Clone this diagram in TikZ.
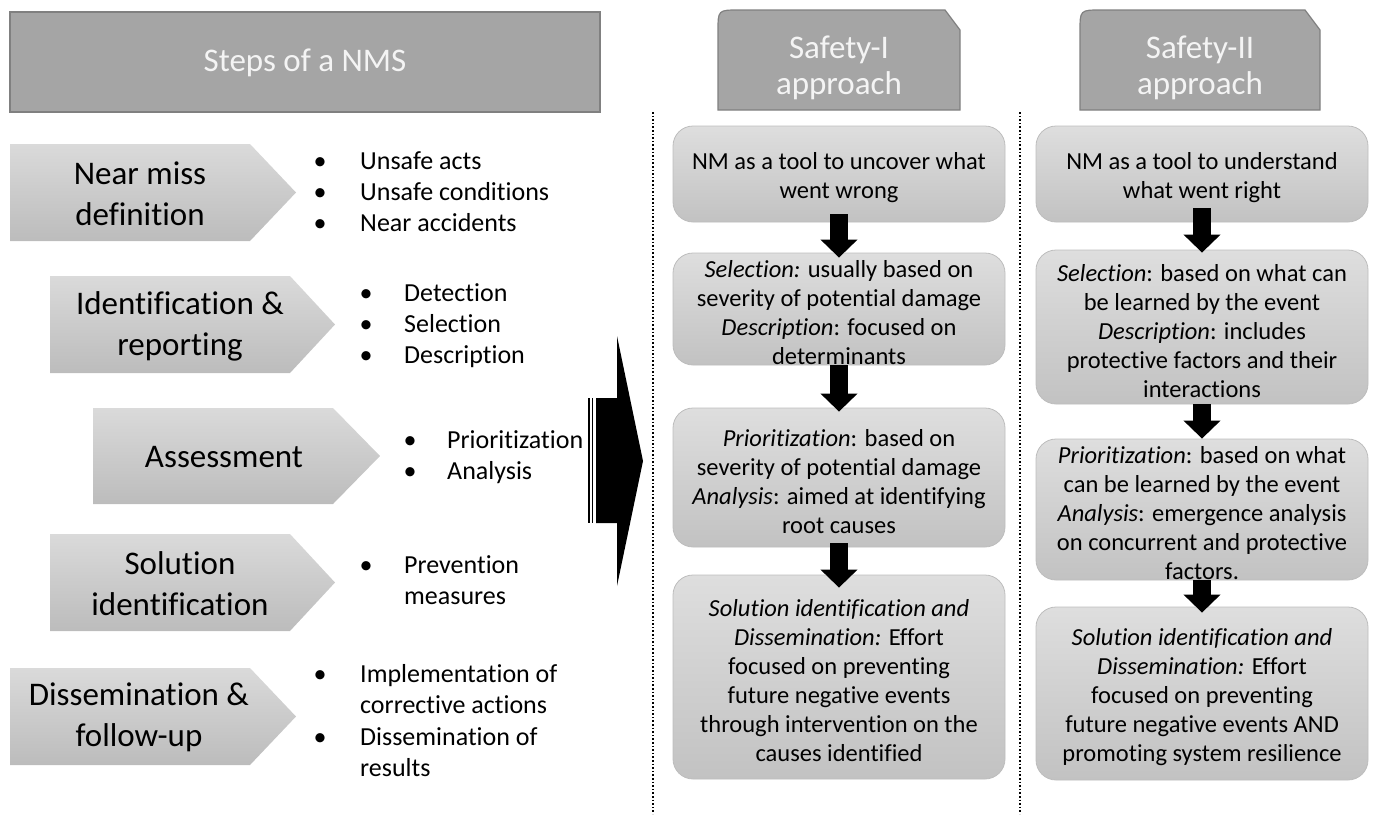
\documentclass[tikz,border=0pt]{standalone}
\usepackage{fontspec}
\setmainfont[Ligatures=NoCommon]{Carlito}
\usetikzlibrary{arrows.meta}
\definecolor{hdr}{HTML}{A5A5A5}
\definecolor{hdrline}{HTML}{808080}
\definecolor{hdrtxt}{HTML}{F4F4F4}
\definecolor{boxtop}{HTML}{DEDEDE}
\definecolor{boxbot}{HTML}{C2C2C2}
\definecolor{boxline}{HTML}{BDBDBD}
\definecolor{pentop}{HTML}{DADADA}
\definecolor{penbot}{HTML}{BCBCBC}
\newcommand\cardtop{\rule{0pt}{24.5pt}}
\begin{document}
\begin{tikzpicture}[x=1pt,y=-1pt,
 hdrbox/.style={fill=hdr, draw=hdrline, line width=1.2pt},
 hdrtext/.style={text=hdrtxt, font=\fontsize{33}{36}\selectfont, align=center, inner sep=0},
 pent/.style={top color=pentop, bottom color=penbot, draw=none},
 penttext/.style={font=\fontsize{33}{41}\selectfont, align=center, inner sep=0},
 bul/.style={font=\fontsize{26}{31}\selectfont, anchor=base, inner sep=0},
 btxt/.style={font=\fontsize{26}{31}\selectfont, anchor=base west, inner sep=0},
 card/.style={rounded corners=20pt, top color=boxtop, bottom color=boxbot, draw=boxline, line width=0.8pt, align=center, font=\fontsize{24.5}{29}\selectfont, inner sep=0, minimum width=332pt},
 downarrow/.style={line width=18pt, -{Triangle[width=36pt,length=18pt]}},
 sep/.style={dotted, line width=1.6pt}
]
\useasboundingbox (0,0) rectangle (1375,814);

% left header
\node[hdrbox, minimum width=590pt, minimum height=100pt, inner sep=0] (hdr) at (305,62) {};
\node[hdrtext] (hdrt) at (305,63) {Steps of a NMS};

% safety headers
\path[hdrbox] (718,110) -- (718,31) .. controls (718,10) .. (739,10) -- (945,10) -- (960,30) -- (960,110) -- cycle;
\node[hdrtext] (saf1) at (839,67.5) {Safety-I\\approach};
\path[hdrbox] (1080,110) -- (1080,31) .. controls (1080,10) .. (1101,10) -- (1305,10) -- (1320,30) -- (1320,110) -- cycle;
\node[hdrtext] (saf2) at (1200,67.5) {Safety-II\\approach};

% separators
\coordinate (s1top) at (653,112); \coordinate (s1bot) at (653,814);
\coordinate (s2top) at (1020,112); \coordinate (s2bot) at (1020,814);
\draw[sep] (s1top) -- (s1bot);
\draw[sep] (s2top) -- (s2bot);

% pentagons
\path[pent] (10,144) -- (250,144) -- (296,192.5) -- (250,241) -- (10,241) -- cycle;
\node[penttext] (p1) at (140,194) {Near miss\\definition};
\path[pent] (50,276) -- (290,276) -- (335,324.5) -- (290,373) -- (50,373) -- cycle;
\node[penttext] (p2) at (180,326) {Identification \&\\reporting};
\path[pent] (93,408) -- (333,408) -- (380,456) -- (333,504) -- (93,504) -- cycle;
\node[penttext] (p3) at (224,457) {Assessment};
\path[pent] (50,534) -- (290,534) -- (335,582.5) -- (290,631) -- (50,631) -- cycle;
\node[penttext] (p4) at (180,584) {Solution\\identification};
\path[pent] (10,668) -- (250,668) -- (296,716.5) -- (250,765) -- (10,765) -- cycle;
\node[penttext] (p5) at (139,717) {Dissemination \&\\follow-up};

% bullets
\node[bul] (d11) at (320,169) {•}; \node[btxt] (t11) at (360,169) {Unsafe acts};
\node[bul] (d12) at (320,200) {•}; \node[btxt] (t12) at (360,200) {Unsafe conditions};
\node[bul] (d13) at (320,231) {•}; \node[btxt] (t13) at (360,231) {Near accidents};

\node[bul] (d21) at (366,301) {•}; \node[btxt] (t21) at (404,301) {Detection};
\node[bul] (d22) at (366,332) {•}; \node[btxt] (t22) at (404,332) {Selection};
\node[bul] (d23) at (366,363) {•}; \node[btxt] (t23) at (404,363) {Description};

\node[bul] (d31) at (410,448) {•}; \node[btxt] (t31) at (447,448) {Prioritization};
\node[bul] (d32) at (410,479) {•}; \node[btxt] (t32) at (447,479) {Analysis};

\node[bul] (d41) at (366,573) {•}; \node[btxt] (t41) at (404,573) {Prevention};
\node[btxt] (t42) at (404,604) {measures};

\node[bul] (d51) at (320,682) {•}; \node[btxt] (t51) at (360,682) {Implementation of};
\node[btxt] (t52) at (360,713) {corrective actions};
\node[bul] (d53) at (320,745) {•}; \node[btxt] (t53) at (360,745) {Dissemination of};
\node[btxt] (t54) at (360,776) {results};

% big arrow
\fill[black] (596,398) -- (617,398) -- (617,336) -- (643,461) -- (617,586) -- (617,523) -- (596,523) -- cycle;
\draw[black, line width=1.2pt] (589,398) -- (589,523);
\draw[black, line width=1.2pt] (592.5,398) -- (592.5,523);

% Safety-I column
\node[card, minimum height=96pt] (a1) at (839,174) {\cardtop NM as a tool to uncover what\\went wrong};
\node[card, minimum height=112pt] (a2) at (839,309) {\cardtop\textit{Selection:} usually based on\\severity of potential damage\\\textit{Description}: focused on\\determinants};
\node[card, minimum height=139pt] (a3) at (839,477.5) {\cardtop\textit{Prioritization}: based on\\severity of potential damage\\\textit{Analysis}: aimed at identifying\\root causes};
\node[card, minimum height=204pt] (a4) at (839,677) {\cardtop\textit{Solution identification and}\\\textit{Dissemination:} Effort\\focused on preventing\\future negative events\\through intervention on the\\causes identified};

% Safety-II column
\node[card, minimum height=96pt] (b1) at (1202,174) {\cardtop NM as a tool to understand\\what went right};
\node[card, minimum height=154pt] (b2) at (1202,327) {\cardtop\textit{Selection}: based on what can\\be learned by the event\\\textit{Description}: includes\\protective factors and their\\interactions};
\node[card, minimum height=141pt] (b3) at (1202,509.5) {\cardtop\textit{Prioritization}: based on what\\can be learned by the event\\\textit{Analysis}: emergence analysis\\on concurrent and protective\\factors.};
\node[card, minimum height=173pt] (b4) at (1202,693.5) {\cardtop\textit{Solution identification and}\\\textit{Dissemination:} Effort\\focused on preventing\\future negative events AND\\promoting system resilience};

% down arrows
\draw[downarrow] ([yshift=8pt]a1.south) -- ([yshift=-5pt]a2.north);
\draw[downarrow] (a2.south) -- ([yshift=-4pt]a3.north);
\draw[downarrow] ([yshift=4pt]a3.south) -- ([yshift=-13pt]a4.north);
\draw[downarrow] ([yshift=14pt]b1.south) -- ([yshift=-3pt]b2.north);
\draw[downarrow] (b2.south) -- (b3.north);
\draw[downarrow] (b3.south) -- ([yshift=-6pt]b4.north);
\end{tikzpicture}
\end{document}
